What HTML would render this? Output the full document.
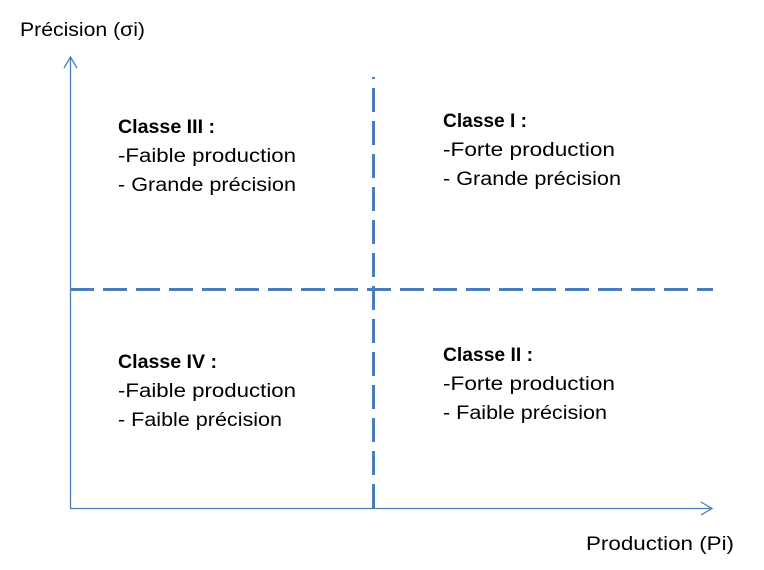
<!DOCTYPE html>
<html><head><meta charset="utf-8"><style>
html,body{margin:0;padding:0;background:#fff;}
svg{display:block;}
text{font-family:"Liberation Sans",sans-serif;font-size:19px;fill:#000;}
.b{font-weight:bold;}
</style></head><body>
<svg width="764" height="570" viewBox="0 0 764 570" xmlns="http://www.w3.org/2000/svg">
<g stroke="#4a7ebb" fill="none">
<line x1="70.5" y1="57" x2="70.5" y2="508.5" stroke-width="1.3"/>
<polyline points="64,68 70.5,57 77,68" stroke-width="1.3"/>
<line x1="70" y1="508.5" x2="712" y2="508.5" stroke-width="1.3"/>
<polyline points="701,502 712,508.5 701,515" stroke-width="1.3"/>
<line x1="373.5" y1="77" x2="373.5" y2="508" stroke-width="3" stroke-dasharray="2,9,24,9,24,9,24,9,24,9,24,9,24,9,24,9,24,9,24,9,24,9,24,9,24,9,24,9,24,9,24,9"/>
<line x1="70" y1="289.5" x2="713" y2="289.5" stroke-width="3" stroke-dasharray="24,9"/>
</g>
<text x="20" y="36" textLength="125" lengthAdjust="spacingAndGlyphs">Précision (σi)</text>
<text x="586" y="550" textLength="148" lengthAdjust="spacingAndGlyphs">Production  (Pi)</text>

<text class="b" x="118" y="133" textLength="97" lengthAdjust="spacingAndGlyphs">Classe III :</text>
<text x="118" y="162" textLength="178" lengthAdjust="spacingAndGlyphs">-Faible production</text>
<text x="118" y="191" textLength="178" lengthAdjust="spacingAndGlyphs">- Grande précision</text>

<text class="b" x="443" y="127" textLength="84" lengthAdjust="spacingAndGlyphs">Classe I :</text>
<text x="443" y="156" textLength="172" lengthAdjust="spacingAndGlyphs">-Forte production</text>
<text x="443" y="185" textLength="178" lengthAdjust="spacingAndGlyphs">- Grande précision</text>

<text class="b" x="118" y="368" textLength="99" lengthAdjust="spacingAndGlyphs">Classe IV :</text>
<text x="118" y="397" textLength="178" lengthAdjust="spacingAndGlyphs">-Faible production</text>
<text x="118" y="426" textLength="164" lengthAdjust="spacingAndGlyphs">- Faible précision</text>

<text class="b" x="443" y="361" textLength="90" lengthAdjust="spacingAndGlyphs">Classe II :</text>
<text x="443" y="390" textLength="172" lengthAdjust="spacingAndGlyphs">-Forte production</text>
<text x="443" y="419" textLength="164" lengthAdjust="spacingAndGlyphs">- Faible précision</text>
</svg>
</body></html>
